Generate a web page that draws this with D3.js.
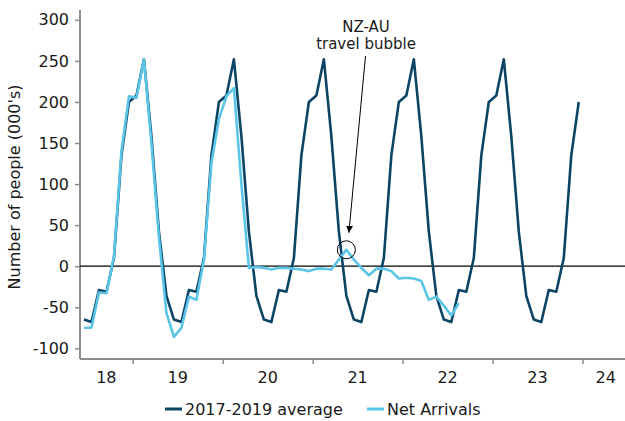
<!DOCTYPE html>
<html>
<head>
<meta charset="utf-8">
<script src="https://cdn.jsdelivr.net/npm/d3@7.9.0/dist/d3.min.js"></script>
<style>
  html, body { margin: 0; padding: 0; background: #fff; }
  svg text { font-family: Verdana, "DejaVu Sans", sans-serif; fill: #1a1a1a; }
</style>
</head>
<body>
<div id="chart"></div>
<script>
// 月度数据，index 0 = 第一个月
const avgCycle = [-65, -68, -29, -31, 10, 135, 200, 208, 252, 158, 42, -36];
const avgMonths = 67;
const avgValues = d3.range(avgMonths).map((i) => avgCycle[i % 12]);

const netArrivals = [
  -75, -75, -32, -33, 12, 140, 207, 205, 252, 150, 35, -57,
  -86, -75, -37, -41, 8, 126, 179, 207, 217, 100, -2, -1,
  -2, -4, -2, -2, -3, -4, -6, -3, -3, -4, 8, 20,
  8, -2, -11, -3, -3, -6, -15, -14, -15, -18, -41, -37,
  -48, -60, -45
];

const yearLabels = ["18", "19", "20", "21", "22", "23", "24"];
const yTicks = [-100, -50, 0, 50, 100, 150, 200, 250, 300];
const bubbleIndex = 35; // NZ-AU travel bubble

const width = 625;
const height = 421;
const plot = { left: 80, right: 629, top: 10, bottom: 359 };

const darkColor = "#0c4466";
const lightColor = "#5bc5e8";
const axisGrey = "#8c8c8c";

const x = d3.scaleLinear().domain([-0.53, 72.7]).range([plot.left, plot.right]);
const y = d3.scaleLinear().domain([-113, 312]).range([plot.bottom, plot.top]);

const svg = d3.select("#chart").append("svg")
  .attr("width", width)
  .attr("height", height);

// y 轴
const yAxis = svg.append("g")
  .attr("transform", `translate(${plot.left},0)`)
  .call(d3.axisLeft(y).tickValues(yTicks).tickSize(5).tickPadding(6).tickFormat((d) => d));
yAxis.select(".domain").remove();
yAxis.selectAll(".tick line").attr("stroke", axisGrey).attr("stroke-width", 1.5);
yAxis.selectAll(".tick text").style("font-size", "16px").attr("fill", "#1a1a1a");
svg.append("line")
  .attr("x1", plot.left).attr("x2", plot.left)
  .attr("y1", plot.top).attr("y2", plot.bottom)
  .attr("stroke", axisGrey).attr("stroke-width", 2);

// x 轴：年份分界线
const yearBounds = d3.range(6).map((k) => 6.5 + 12 * k);
const xAxis = svg.append("g")
  .attr("transform", `translate(0,${plot.bottom})`)
  .call(d3.axisBottom(x).tickValues(yearBounds).tickSize(5).tickFormat(""));
xAxis.select(".domain").remove();
xAxis.selectAll(".tick line").attr("stroke", axisGrey).attr("stroke-width", 1.5);
svg.append("line")
  .attr("x1", plot.left).attr("x2", plot.right)
  .attr("y1", plot.bottom).attr("y2", plot.bottom)
  .attr("stroke", axisGrey).attr("stroke-width", 2);

// 年份标签放在可见区间中间
const edges = [x.domain()[0], ...yearBounds, x.domain()[1]];
svg.append("g").selectAll("text")
  .data(yearLabels)
  .join("text")
  .attr("x", (d, i) => (x(edges[i]) + x(edges[i + 1])) / 2)
  .attr("y", 383)
  .attr("text-anchor", "middle")
  .style("font-size", "16px")
  .text((d) => d);

// 零线
svg.append("line")
  .attr("x1", plot.left).attr("x2", plot.right)
  .attr("y1", y(0)).attr("y2", y(0))
  .attr("stroke", "#000").attr("stroke-width", 1.2);

const line = d3.line()
  .x((d, i) => x(i))
  .y((d) => y(d));

svg.append("path")
  .datum(avgValues)
  .attr("fill", "none")
  .attr("stroke", darkColor)
  .attr("stroke-width", 2.6)
  .attr("stroke-linejoin", "round")
  .attr("d", line);

svg.append("path")
  .datum(netArrivals)
  .attr("fill", "none")
  .attr("stroke", lightColor)
  .attr("stroke-width", 2.6)
  .attr("stroke-linejoin", "round")
  .attr("d", line);

// 标注
const bx = x(bubbleIndex);
const by = y(netArrivals[bubbleIndex]);
svg.append("circle")
  .attr("cx", bx).attr("cy", by).attr("r", 9)
  .attr("fill", "none").attr("stroke", "#000").attr("stroke-width", 1);

svg.append("defs").append("marker")
  .attr("id", "arrow")
  .attr("viewBox", "0 0 10 10")
  .attr("refX", 10).attr("refY", 5)
  .attr("markerWidth", 7).attr("markerHeight", 7)
  .attr("orient", "auto")
  .append("path")
  .attr("d", "M0,0 L10,5 L0,10 z")
  .attr("fill", "#000");

svg.append("line")
  .attr("x1", 365.5).attr("y1", 56)
  .attr("x2", bx + 2.5).attr("y2", by - 17)
  .attr("stroke", "#000").attr("stroke-width", 1)
  .attr("marker-end", "url(#arrow)");

const note = svg.append("text")
  .attr("text-anchor", "middle")
  .style("font-size", "15px");
note.append("tspan").attr("x", 366).attr("y", 32).text("NZ-AU");
note.append("tspan").attr("x", 366).attr("y", 49).text("travel bubble");

// y 轴标题
svg.append("text")
  .attr("transform", `translate(20,${187}) rotate(-90)`)
  .attr("text-anchor", "middle")
  .style("font-size", "16px")
  .text("Number of people (000's)");

// 图例
const legendItems = [
  { name: "2017-2019 average", color: darkColor, x: 165 },
  { name: "Net Arrivals", color: lightColor, x: 367 },
];
const legend = svg.append("g").selectAll("g")
  .data(legendItems)
  .join("g")
  .attr("transform", (d) => `translate(${d.x},409)`);
legend.append("line")
  .attr("x1", 0).attr("x2", 17)
  .attr("stroke", (d) => d.color)
  .attr("stroke-width", 3);
legend.append("text")
  .attr("x", 20).attr("y", 6)
  .style("font-size", "16px")
  .text((d) => d.name);
</script>
</body>
</html>
